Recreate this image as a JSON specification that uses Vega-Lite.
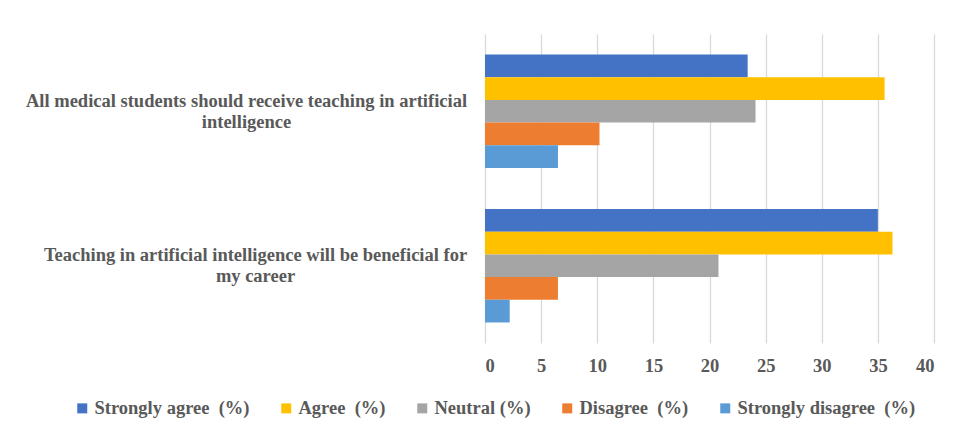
{
  "$schema": "https://vega.github.io/schema/vega-lite/v6.json",
  "autosize": {"type": "none"},
  "width": 449,
  "height": 309,
  "padding": {"left": 485, "top": 34, "right": 23, "bottom": 85},
  "background": "white",
  "data": {
    "values": [
      {"statement": "All medical students should receive teaching in artificial intelligence", "response": "Strongly agree\u00a0 (%)", "percent": 23.4},
      {"statement": "All medical students should receive teaching in artificial intelligence", "response": "Agree\u00a0 (%)", "percent": 35.6},
      {"statement": "All medical students should receive teaching in artificial intelligence", "response": "Neutral (%)", "percent": 24.1},
      {"statement": "All medical students should receive teaching in artificial intelligence", "response": "Disagree\u00a0 (%)", "percent": 10.2},
      {"statement": "All medical students should receive teaching in artificial intelligence", "response": "Strongly disagree\u00a0 (%)", "percent": 6.5},
      {"statement": "Teaching in artificial intelligence will be beneficial for my career", "response": "Strongly agree\u00a0 (%)", "percent": 35.0},
      {"statement": "Teaching in artificial intelligence will be beneficial for my career", "response": "Agree\u00a0 (%)", "percent": 36.3},
      {"statement": "Teaching in artificial intelligence will be beneficial for my career", "response": "Neutral (%)", "percent": 20.8},
      {"statement": "Teaching in artificial intelligence will be beneficial for my career", "response": "Disagree\u00a0 (%)", "percent": 6.5},
      {"statement": "Teaching in artificial intelligence will be beneficial for my career", "response": "Strongly disagree\u00a0 (%)", "percent": 2.2}
    ]
  },
  "mark": {"type": "bar"},
  "encoding": {
    "y": {
      "field": "statement",
      "type": "nominal",
      "sort": null,
      "scale": {"paddingInner": 0.266, "paddingOuter": 0.133},
      "axis": {
        "title": null,
        "domain": false,
        "ticks": false,
        "labelAlign": "center",
        "labelBaseline": "middle",
        "labelPadding": {"condition": {"test": "indexof(datum.value, 'Teaching') == 0", "value": 230}, "value": 239},
        "labelOffset": -10.5,
        "labelLimit": 600,
        "labelLineHeight": 21,
        "labelFont": "'Liberation Serif', 'Times New Roman', serif",
        "labelFontWeight": "bold",
        "labelFontSize": 18.5,
        "labelColor": "#595959",
        "labelExpr": "datum.label == 'All medical students should receive teaching in artificial intelligence' ? ['All medical students should receive teaching in artificial', 'intelligence'] : ['Teaching in artificial intelligence will be beneficial for', 'my career']"
      }
    },
    "yOffset": {
      "field": "response",
      "type": "nominal",
      "sort": ["Strongly agree\u00a0 (%)", "Agree\u00a0 (%)", "Neutral (%)", "Disagree\u00a0 (%)", "Strongly disagree\u00a0 (%)"],
      "scale": {"paddingInner": 0, "paddingOuter": 0}
    },
    "x": {
      "field": "percent",
      "type": "quantitative",
      "scale": {"domain": [0, 40], "nice": false},
      "axis": {
        "title": null,
        "values": [0, 5, 10, 15, 20, 25, 30, 35, 40],
        "domain": false,
        "ticks": false,
        "grid": true,
        "gridColor": "#d9d9d9",
        "gridWidth": 1.3,
        "labelPadding": 13,
        "labelFont": "'Liberation Serif', 'Times New Roman', serif",
        "labelFontWeight": "bold",
        "labelFontSize": 18.5,
        "labelColor": "#595959"
      }
    },
    "color": {
      "field": "response",
      "type": "nominal",
      "scale": {
        "domain": ["Strongly agree\u00a0 (%)", "Agree\u00a0 (%)", "Neutral (%)", "Disagree\u00a0 (%)", "Strongly disagree\u00a0 (%)"],
        "range": ["#4472C4", "#FFC000", "#A5A5A5", "#ED7D31", "#5B9BD5"]
      },
      "legend": {
        "title": null,
        "orient": "none",
        "direction": "horizontal",
        "legendX": -412,
        "legendY": 365,
        "symbolType": "square",
        "symbolSize": 100,
        "symbolStrokeWidth": 0,
        "labelOffset": 3,
        "columnPadding": 27,
        "labelLimit": 400,
        "labelFont": "'Liberation Serif', 'Times New Roman', serif",
        "labelFontWeight": "bold",
        "labelFontSize": 18.5,
        "labelColor": "#595959"
      }
    }
  },
  "config": {
    "view": {"stroke": null},
    "axis": {"gridOpacity": 1}
  }
}
